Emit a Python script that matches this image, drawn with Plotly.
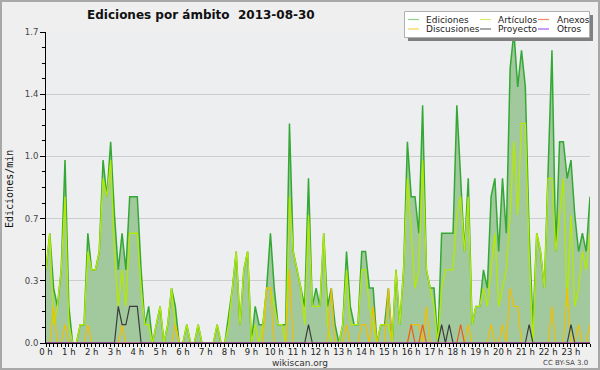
import plotly.graph_objects as go

# 10-minute buckets, edits per minute
slot_hours = [k / 6 for k in range(144)]

ediciones = [0.4, 0.6, 0.3, 0.2, 0.4, 1.0, 0.2, 0.0, 0.0, 0.1, 0.1, 0.6,
             0.4, 0.4, 0.5, 1.0, 0.8, 1.1, 0.7, 0.4, 0.6, 0.4, 0.8, 0.8,
             0.8, 0.4, 0.1, 0.2, 0.0, 0.1, 0.2, 0.0, 0.1, 0.3, 0.2, 0.0,
             0.0, 0.1, 0.0, 0.0, 0.1, 0.0, 0.0, 0.0, 0.0, 0.1, 0.0, 0.0,
             0.15, 0.3, 0.5, 0.1, 0.4, 0.5, 0.0, 0.2, 0.1, 0.1, 0.3, 0.6,
             0.3, 0.1, 0.1, 0.1, 1.2, 0.5, 0.4, 0.3, 0.2, 0.9, 0.2, 0.3,
             0.2, 0.6, 0.2, 0.3, 0.1, 0.0, 0.1, 0.5, 0.2, 0.1, 0.1, 0.5,
             0.5, 0.3, 0.3, 0.0, 0.1, 0.1, 0.3, 0.0, 0.4, 0.1, 0.4, 1.1,
             0.8, 0.8, 0.6, 1.3, 0.4, 0.3, 0.3, 0.0, 0.6, 0.6, 0.6, 0.6,
             1.3, 0.9, 0.5, 0.9, 0.1, 0.2, 0.2, 0.4, 0.3, 0.8, 0.9, 0.5,
             0.9, 0.6, 1.5, 1.7, 1.4, 1.6, 1.4, 0.6, 0.1, 0.6, 0.5, 0.3,
             0.9, 1.6, 0.5, 1.1, 1.1, 0.9, 1.0, 0.7, 0.5, 0.6, 0.5, 0.8]

articulos = [0.4, 0.6, 0.1, 0.2, 0.4, 0.8, 0.1, 0.0, 0.0, 0.1, 0.1, 0.5,
             0.4, 0.4, 0.5, 0.9, 0.8, 1.0, 0.5, 0.2, 0.4, 0.2, 0.6, 0.6,
             0.6, 0.3, 0.1, 0.1, 0.0, 0.1, 0.2, 0.0, 0.1, 0.3, 0.1, 0.0,
             0.0, 0.1, 0.0, 0.0, 0.1, 0.0, 0.0, 0.0, 0.0, 0.1, 0.0, 0.0,
             0.1, 0.3, 0.5, 0.1, 0.4, 0.5, 0.0, 0.1, 0.0, 0.1, 0.3, 0.3,
             0.2, 0.1, 0.1, 0.0, 0.8, 0.5, 0.4, 0.3, 0.1, 0.7, 0.2, 0.2,
             0.2, 0.6, 0.1, 0.0, 0.0, 0.0, 0.1, 0.4, 0.1, 0.1, 0.1, 0.4,
             0.4, 0.2, 0.1, 0.0, 0.1, 0.1, 0.1, 0.0, 0.4, 0.1, 0.4, 0.9,
             0.6, 0.3, 0.4, 1.0, 0.4, 0.3, 0.2, 0.0, 0.3, 0.4, 0.4, 0.4,
             0.7, 0.8, 0.5, 0.8, 0.1, 0.2, 0.2, 0.3, 0.2, 0.4, 0.6, 0.2,
             0.3, 0.4, 0.7, 1.1, 0.7, 1.2, 1.2, 0.5, 0.0, 0.6, 0.5, 0.3,
             0.9, 0.9, 0.5, 0.7, 0.9, 0.2, 0.7, 0.2, 0.3, 0.5, 0.4, 0.6]

discusiones = [0.0, 0.0, 0.2, 0.0, 0.0, 0.1, 0.0, 0.0, 0.0, 0.0, 0.0, 0.1,
               0.0, 0.0, 0.0, 0.0, 0.0, 0.0, 0.0, 0.0, 0.1, 0.0, 0.0, 0.0,
               0.0, 0.0, 0.0, 0.0, 0.0, 0.0, 0.0, 0.0, 0.0, 0.0, 0.1, 0.0,
               0.0, 0.0, 0.0, 0.0, 0.0, 0.0, 0.0, 0.0, 0.0, 0.0, 0.0, 0.0,
               0.0, 0.0, 0.0, 0.0, 0.0, 0.0, 0.0, 0.0, 0.0, 0.0, 0.3, 0.3,
               0.0, 0.0, 0.0, 0.0, 0.4, 0.0, 0.0, 0.0, 0.0, 0.0, 0.0, 0.0,
               0.0, 0.0, 0.0, 0.3, 0.0, 0.0, 0.0, 0.1, 0.0, 0.0, 0.0, 0.1,
               0.1, 0.0, 0.2, 0.0, 0.0, 0.0, 0.3, 0.0, 0.0, 0.0, 0.0, 0.0,
               0.1, 0.1, 0.1, 0.0, 0.2, 0.0, 0.0, 0.0, 0.0, 0.0, 0.0, 0.0,
               0.0, 0.0, 0.0, 0.1, 0.0, 0.0, 0.0, 0.0, 0.0, 0.1, 0.0, 0.0,
               0.1, 0.0, 0.3, 0.2, 0.2, 0.0, 0.0, 0.0, 0.0, 0.0, 0.0, 0.0,
               0.0, 0.2, 0.0, 0.0, 0.0, 0.3, 0.0, 0.0, 0.1, 0.0, 0.0, 0.1]

proyecto = [0.0] * 19 + [0.2, 0.1, 0.1, 0.2, 0.2, 0.2] + [0.0] * 44 + [0.1] \
    + [0.0] * 34 + [0.1, 0.0, 0.1] + [0.0] * 20 + [0.1] + [0.0] * 10 + [0.1] + [0.0] * 5

anexos = [0.0] * 96 + [0.1, 0.0, 0.0, 0.1] + [0.0] * 9 + [0.1] + [0.0] * 34

otros = [0.0] * 144

hour_ticks = list(range(24))
hour_labels = [f"{h} h" for h in hour_ticks]
y_ticks = [0.0, 0.34, 0.68, 1.02, 1.36, 1.7]
y_labels = ["0.0", "0.3", "0.7", "1.0", "1.4", "1.7"]

series = [
    ("Artículos", articulos, "#b4ea00", 1.3),
    ("Discusiones", discusiones, "#f2bf00", 1.2),
    ("Anexos", anexos, "#ee5a1a", 1.2),
    ("Proyecto", proyecto, "#3c3c3c", 1.2),
    ("Otros", otros, "#9a3cf0", 1.2),
]

W, H = 600, 370
L, R, T, B = 46, 10, 32, 27
PW, PH = W - L - R, H - T - B


def px(x):
    return (x - L) / PW


def py(y):
    return 1 - (y - T) / PH


fig = go.Figure()
fig.add_trace(go.Scatter(x=slot_hours, y=ediciones, mode="lines", fill="tozeroy",
                         fillcolor="#a2c99d", line=dict(color="#34a834", width=1.5),
                         name="Ediciones", showlegend=False))
for name, vals, col, w in series:
    fig.add_trace(go.Scatter(x=slot_hours, y=vals, mode="lines", name=name,
                             line=dict(color=col, width=w), showlegend=False))

shapes = []
annotations = []
# outer frame
shapes.append(dict(type="rect", xref="paper", yref="paper", x0=px(1), x1=px(599),
                   y0=py(369), y1=py(1), line=dict(color="#a8a8a8", width=2), layer="below"))
# legend box with shadow
shapes.append(dict(type="rect", xref="paper", yref="paper", x0=px(408), x1=px(593),
                   y0=py(41), y1=py(15), fillcolor="#808080", line=dict(width=0)))
shapes.append(dict(type="rect", xref="paper", yref="paper", x0=px(404.5), x1=px(589.5),
                   y0=py(37.5), y1=py(11.5), fillcolor="white", line=dict(color="#b0b0b0", width=1)))

legend_items = [
    ("Ediciones", "#8fd48f", 408, 424, 19.5),
    ("Discusiones", "#f5d050", 408, 424, 29),
    ("Artículos", "#d3ef6a", 480, 496, 19.5),
    ("Proyecto", "#707070", 480, 496, 29),
    ("Anexos", "#f08a5a", 538, 555, 19.5),
    ("Otros", "#a65cf0", 538, 555, 29),
]
for text, col, lx, tx, ly in legend_items:
    shapes.append(dict(type="line", xref="paper", yref="paper", x0=px(lx), x1=px(lx + 11),
                       y0=py(ly), y1=py(ly), line=dict(color=col, width=1.2)))
    annotations.append(dict(text=text, xref="paper", yref="paper", x=px(tx), y=py(ly),
                            xanchor="left", yanchor="middle", showarrow=False,
                            font=dict(family="DejaVu Sans", size=9, color="#222")))

annotations.append(dict(text="<b>Ediciones por ámbito\u00a0\u00a02013-08-30</b>", xref="paper", yref="paper",
                        x=px(85), y=py(15), xanchor="left", yanchor="middle", showarrow=False,
                        font=dict(family="DejaVu Sans", size=12, color="#111")))
annotations.append(dict(text="Ediciones/min", xref="paper", yref="paper", x=px(10), y=py(189),
                        xanchor="center", yanchor="middle", textangle=-90, showarrow=False,
                        font=dict(family="DejaVu Sans Mono", size=10, color="#111")))
annotations.append(dict(text="wikiscan.org", xref="paper", yref="paper", x=px(300), y=py(363),
                        xanchor="center", yanchor="middle", showarrow=False,
                        font=dict(family="DejaVu Sans", size=9, color="#333")))
annotations.append(dict(text="CC BY-SA 3.0", xref="paper", yref="paper", x=px(590), y=py(363),
                        xanchor="right", yanchor="middle", showarrow=False,
                        font=dict(family="DejaVu Sans", size=7, color="#444")))

fig.update_layout(
    width=W, height=H,
    margin=dict(l=L, r=R, t=T, b=B, pad=0),
    paper_bgcolor="#efefef", plot_bgcolor="#edeef0",
    shapes=shapes, annotations=annotations, showlegend=False,
    xaxis=dict(range=[0, slot_hours[-1]], tickmode="array", tickvals=hour_ticks,
               ticktext=hour_labels, ticks="outside", ticklen=3, tickcolor="black",
               tickwidth=1, showline=True, linecolor="black", linewidth=1,
               showgrid=False, zeroline=False, automargin=False, ticklabelstandoff=-2,
               tickfont=dict(family="DejaVu Sans", size=8.5, color="#222"),
               minor=dict(dtick=1 / 6, tick0=0, ticks="outside", ticklen=3,
                          tickcolor="black", showgrid=False)),
    yaxis=dict(range=[0, 1.7], tickmode="array", tickvals=y_ticks, ticktext=y_labels,
               ticks="outside", ticklen=5, tickcolor="black", showline=True,
               linecolor="black", linewidth=1, showgrid=True, gridcolor="#cdcdcd",
               gridwidth=1, zeroline=False, automargin=False,
               tickfont=dict(family="DejaVu Sans", size=8.5, color="#444"),
               minor=dict(dtick=0.085, tick0=0, ticks="outside", ticklen=3,
                          tickcolor="black", showgrid=False)),
)

fig.write_html("out.html", config={"displayModeBar": False},
               post_script="document.body.style.margin='0';document.body.style.overflow='hidden';")
